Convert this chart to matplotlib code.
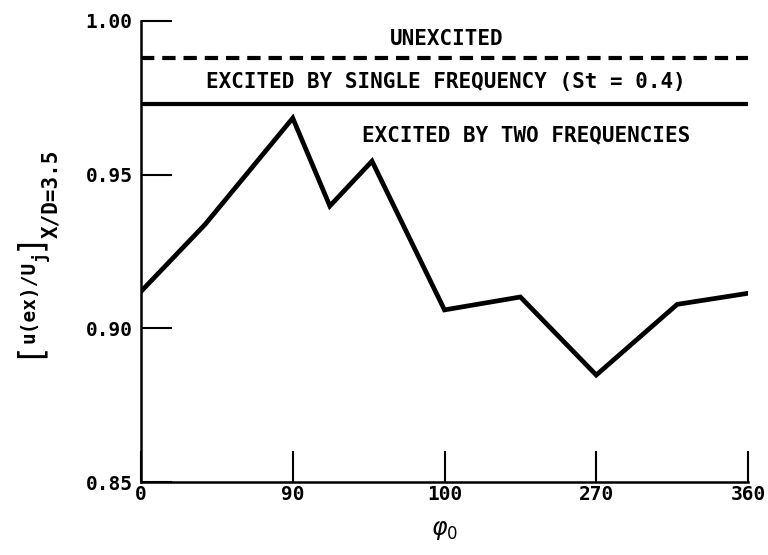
import matplotlib
matplotlib.use("Agg")
import numpy as np
import matplotlib.pyplot as plt

# --- data ---
phase = [0, 38, 90, 112, 137, 180, 225, 270, 318, 360]
u_ratio = [0.912, 0.9338, 0.9684, 0.9398, 0.9544, 0.9060, 0.9102, 0.8848, 0.9078, 0.9114]

u_unexcited = 0.988
u_single = 0.973

xticks = [0, 90, 180, 270, 360]
xtick_labels = ['0', '90', '100', '270', '360']
yticks = [0.85, 0.90, 0.95, 1.00]
ytick_labels = ['0.85', '0.90', '0.95', '1.00']

plt.rcParams['font.family'] = ['DejaVu Sans Mono', 'DejaVu Sans']
plt.rcParams['mathtext.fontset'] = 'dejavusans'

W, H = 768, 555
fig = plt.figure(figsize=(W / 100, H / 100), dpi=100)
ax = fig.add_axes([141 / W, 1 - 482 / H, 607 / W, 461 / H])

ax.plot(phase, u_ratio, 'k-', linewidth=3.4, solid_joinstyle='miter')
ax.plot([0, 360], [u_unexcited, u_unexcited], 'k', linestyle=(0, (3.2, 1.9)), linewidth=3.0)
ax.plot([0, 360], [u_single, u_single], 'k-', linewidth=3.0)

ytr = ax.get_yaxis_transform()
txt = dict(fontsize=15, fontweight='bold', ha='center', va='center', transform=ytr)
ax.text(0.504, 0.9941, 'UNEXCITED', **txt)
ax.text(0.503, 0.9803, 'EXCITED BY SINGLE FREQUENCY (St = 0.4)', **txt)
ax.text(0.634, 0.9629, 'EXCITED BY TWO FREQUENCIES', **txt)

ax.set_xlim(0, 360)
ax.set_ylim(0.85, 1.00)
ax.set_xticks(xticks)
ax.set_xticklabels(xtick_labels, fontweight='bold')
ax.set_yticks(yticks)
ax.set_yticklabels(ytick_labels, fontweight='bold')
ax.tick_params(axis='both', direction='in', length=22, width=1.5, labelsize=14, pad=2)
ax.tick_params(axis='y', pad=6)

for s in ['top', 'right']:
    ax.spines[s].set_visible(False)
for s in ['left', 'bottom']:
    ax.spines[s].set_linewidth(1.8)

ax.set_xlabel(r'$\varphi_0$', fontsize=17, labelpad=10)

# y label built from pieces: [U(ex)/Uj] with X/D=3.5 subscript
def ylab(px, py, s, size=14, weight='bold', **kw):
    fig.text(px / W, 1 - py / H, s, rotation=90, ha='center', va='center',
             fontsize=size, fontweight=weight, **kw)

ylab(31, 351, '[', size=24, weight='normal', family='DejaVu Sans')
ylab(29, 302, 'u(ex)/U', size=14)
ylab(40, 256, 'j', size=12)
ylab(31, 243, ']', size=24, weight='normal', family='DejaVu Sans')
ylab(51, 194, 'X/D=3.5', size=15)

fig.savefig('out.png', dpi=100)
